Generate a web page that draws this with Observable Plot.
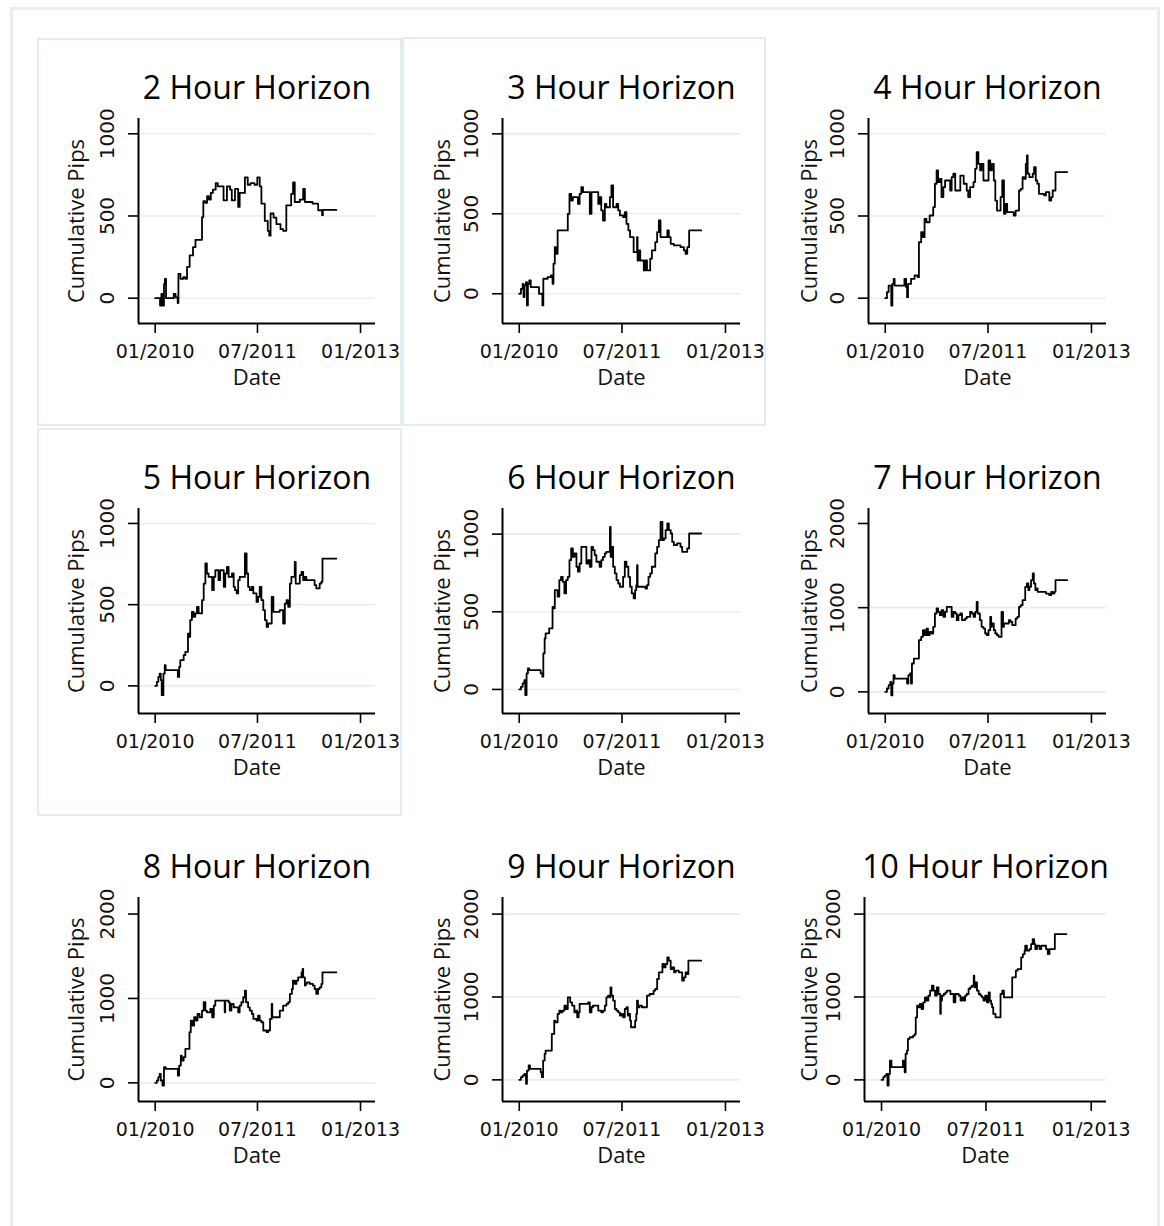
<!DOCTYPE html>
<html>
<head>
<meta charset="utf-8">
<script src="https://cdn.jsdelivr.net/npm/d3@7"></script>
<script src="https://cdn.jsdelivr.net/npm/@observablehq/plot@0.6"></script>
<style>
  body { margin: 0; background: #fff; }
  #page { position: relative; width: 1164px; height: 1226px; background: #fff; overflow: hidden; }
  .outer { position: absolute; left: 10px; top: 7px; width: 1150px; height: 1300px; border: 3px solid #e8eff1; box-sizing: border-box; }
  .cellbox { position: absolute; border: 2px solid #e2ebed; box-sizing: border-box; }
  .panel { position: absolute; }
  .panel svg { overflow: visible; }
</style>
</head>
<body>
<div id="page"><div class="outer"></div></div>
<script>
// Forecast horizons, one small multiple each
const horizons = [2, 3, 4, 5, 6, 7, 8, 9, 10];

// Shared x ticks (dates) and y tick sets
const xTickDates = ["2010-01-01", "2011-07-01", "2013-01-01"];
const yTicksSmall = [0, 500, 1000];
const yTicksLarge = [0, 1000, 2000];

// Cumulative pips per horizon: [date, cumulative pips]
const pips2h = [["2010-01-01",0],["2010-01-22",0],["2010-01-27",-45],["2010-02-03",26],["2010-02-09",-45],["2010-02-17",85],["2010-02-22",118],["2010-02-28",0],["2010-04-10",26],["2010-04-20",5],["2010-05-01",-30],["2010-05-05",148],["2010-05-16",118],["2010-05-31",128],["2010-06-10",118],["2010-06-20",190],["2010-07-04",260],["2010-07-22",310],["2010-08-04",355],["2010-09-08",493],["2010-09-15",590],["2010-09-25",580],["2010-10-05",620],["2010-10-15",600],["2010-10-25",640],["2010-11-05",660],["2010-11-20",700],["2010-12-01",680],["2011-01-01",595],["2011-01-19",680],["2011-02-05",660],["2011-02-14",595],["2011-03-03",665],["2011-03-20",555],["2011-03-28",640],["2011-04-25",735],["2011-05-10",690],["2011-05-25",700],["2011-06-15",690],["2011-06-30",735],["2011-07-13",680],["2011-07-22",575],["2011-08-09",470],["2011-08-25",410],["2011-09-02",380],["2011-09-09",515],["2011-09-25",490],["2011-10-10",450],["2011-11-01",420],["2011-11-15",410],["2011-12-02",565],["2011-12-28",635],["2012-01-07",705],["2012-01-16",585],["2012-02-12",600],["2012-03-01",665],["2012-03-10",585],["2012-04-20",575],["2012-05-20",535],["2012-06-10",505],["2012-06-14",537],["2012-08-25",537]];

const pips3h = [["2010-01-01",0],["2010-01-10",31],["2010-01-19",62],["2010-01-24",-21],["2010-01-29",52],["2010-02-06",73],["2010-02-11",-73],["2010-02-16",62],["2010-02-23",83],["2010-03-03",42],["2010-04-16",0],["2010-05-04",-73],["2010-05-09",94],["2010-06-01",104],["2010-06-18",115],["2010-06-27",62],["2010-07-02",188],["2010-07-09",292],["2010-07-15",250],["2010-07-24",396],["2010-09-16",500],["2010-09-25",625],["2010-10-04",583],["2010-10-13",604],["2010-11-09",562],["2010-11-18",625],["2010-11-27",667],["2010-12-06",635],["2011-01-11",500],["2011-01-20",635],["2011-02-25",562],["2011-03-04",604],["2011-03-13",521],["2011-03-22",458],["2011-04-01",562],["2011-04-09",541],["2011-04-28",604],["2011-05-06",677],["2011-05-15",541],["2011-06-02",562],["2011-06-11",521],["2011-06-20",490],["2011-07-07",479],["2011-07-16",510],["2011-07-25",437],["2011-08-04",396],["2011-08-13",354],["2011-09-01",260],["2011-09-19",354],["2011-09-22",208],["2011-09-28",271],["2011-10-06",208],["2011-10-25",146],["2011-11-02",208],["2011-11-11",146],["2011-11-28",219],["2011-12-07",271],["2011-12-25",323],["2012-01-04",385],["2012-01-13",458],["2012-01-22",354],["2012-02-27",396],["2012-03-06",354],["2012-03-16",312],["2012-04-02",302],["2012-05-07",292],["2012-05-25",271],["2012-06-03",250],["2012-06-12",292],["2012-06-22",396],["2012-08-25",396]];

const pips4h = [["2010-01-01",0],["2010-01-10",37],["2010-01-19",77],["2010-02-02",-45],["2010-02-08",87],["2010-02-15",118],["2010-02-20",77],["2010-04-13",118],["2010-04-22",67],["2010-04-27",6],["2010-05-02",87],["2010-05-18",118],["2010-06-06",138],["2010-06-23",128],["2010-06-29",341],["2010-07-11",402],["2010-07-20",371],["2010-07-29",483],["2010-08-08",462],["2010-08-25",503],["2010-09-13",554],["2010-09-22",696],["2010-10-01",777],["2010-10-09",706],["2010-10-18",726],["2010-10-27",615],["2010-11-06",675],["2010-11-15",716],["2010-12-12",655],["2010-12-20",736],["2010-12-29",757],["2011-01-08",655],["2011-02-04",746],["2011-02-22",696],["2011-03-10",655],["2011-03-18",615],["2011-03-28",675],["2011-04-15",706],["2011-04-24",787],["2011-05-02",888],["2011-05-11",817],["2011-05-20",777],["2011-05-28",817],["2011-06-07",716],["2011-07-04",838],["2011-07-13",777],["2011-07-22",817],["2011-08-01",716],["2011-08-09",594],["2011-08-18",533],["2011-09-06",615],["2011-09-15",716],["2011-09-24",513],["2011-10-02",574],["2011-10-11",523],["2011-11-15",503],["2011-11-25",533],["2011-12-13",655],["2011-12-22",665],["2012-01-01",736],["2012-01-10",726],["2012-01-18",817],["2012-01-24",868],["2012-01-28",757],["2012-02-06",736],["2012-02-24",757],["2012-03-02",797],["2012-03-11",716],["2012-03-19",696],["2012-03-28",635],["2012-04-25",625],["2012-05-04",645],["2012-05-22",594],["2012-06-01",615],["2012-06-09",655],["2012-06-24",767],["2012-08-25",767]];

const pips5h = [["2010-01-01",0],["2010-01-10",25],["2010-01-18",55],["2010-01-25",76],["2010-01-31",35],["2010-02-05",-57],["2010-02-14",76],["2010-02-21",127],["2010-02-26",97],["2010-04-27",97],["2010-05-02",55],["2010-05-09",117],["2010-05-15",158],["2010-06-02",189],["2010-06-11",209],["2010-06-25",322],["2010-07-02",302],["2010-07-07",405],["2010-07-16",456],["2010-07-25",425],["2010-08-03",446],["2010-08-12",487],["2010-08-21",446],["2010-09-08",528],["2010-09-17",630],["2010-09-26",754],["2010-10-04",692],["2010-10-13",671],["2010-11-01",589],["2010-11-10",671],["2010-11-18",712],["2010-12-05",651],["2010-12-14",712],["2011-01-02",610],["2011-01-10",692],["2011-01-19",733],["2011-01-28",671],["2011-02-15",692],["2011-02-24",610],["2011-03-03",589],["2011-03-12",569],["2011-03-20",651],["2011-03-28",671],["2011-04-25",815],["2011-05-04",692],["2011-05-12",610],["2011-05-21",589],["2011-06-01",610],["2011-06-09",569],["2011-06-26",517],["2011-07-04",548],["2011-07-13",610],["2011-07-22",528],["2011-08-01",466],["2011-08-10",405],["2011-08-19",363],["2011-08-27",384],["2011-09-15",548],["2011-09-24",456],["2011-10-28",466],["2011-11-15",384],["2011-11-24",507],["2011-12-03",528],["2011-12-12",487],["2011-12-21",630],["2011-12-29",671],["2012-01-16",764],["2012-01-21",630],["2012-02-12",682],["2012-02-21",702],["2012-03-01",651],["2012-03-09",671],["2012-03-18",651],["2012-05-01",620],["2012-05-10",600],["2012-05-28",630],["2012-06-06",641],["2012-06-12",784],["2012-08-25",784]];

const pips6h = [["2010-01-01",0],["2010-01-10",17],["2010-01-19",39],["2010-01-28",60],["2010-02-02",-36],["2010-02-09",103],["2010-02-16",135],["2010-02-23",124],["2010-04-25",103],["2010-05-04",82],["2010-05-09",232],["2010-05-16",328],["2010-05-21",361],["2010-06-09",393],["2010-06-27",532],["2010-07-02",522],["2010-07-09",640],["2010-07-24",597],["2010-08-02",704],["2010-08-11",725],["2010-08-20",693],["2010-08-29",618],["2010-09-07",704],["2010-09-16",725],["2010-09-25",833],["2010-10-04",908],["2010-10-13",854],["2010-10-22",876],["2010-11-01",790],["2010-11-09",758],["2010-11-18",811],["2010-11-27",918],["2010-12-24",811],["2011-01-02",833],["2011-01-11",790],["2011-01-20",918],["2011-01-28",897],["2011-02-06",865],["2011-02-15",822],["2011-03-04",790],["2011-03-13",833],["2011-03-22",854],["2011-04-01",876],["2011-04-09",886],["2011-04-28",1047],["2011-05-02",854],["2011-05-09",918],["2011-05-15",790],["2011-05-24",747],["2011-06-02",704],["2011-06-11",682],["2011-06-20",661],["2011-07-07",725],["2011-07-16",822],["2011-07-25",790],["2011-08-04",725],["2011-08-13",661],["2011-08-22",618],["2011-09-01",586],["2011-09-09",640],["2011-09-15",672],["2011-09-19",800],["2011-09-22",661],["2011-11-02",650],["2011-11-11",672],["2011-11-19",725],["2011-11-28",747],["2011-12-07",790],["2011-12-25",876],["2012-01-04",918],["2012-01-13",961],["2012-01-22",1079],["2012-02-01",961],["2012-02-09",972],["2012-02-18",1026],["2012-02-27",1069],["2012-03-06",1026],["2012-03-16",1004],["2012-03-24",950],["2012-04-02",929],["2012-04-19",940],["2012-05-07",918],["2012-05-16",886],["2012-06-12",908],["2012-06-22",1004],["2012-08-25",1004]];

const pips7h = [["2010-01-01",0],["2010-01-10",40],["2010-01-19",79],["2010-01-28",119],["2010-02-02",-40],["2010-02-08",99],["2010-02-14",198],["2010-02-20",158],["2010-04-21",158],["2010-04-27",99],["2010-05-04",198],["2010-05-13",218],["2010-05-18",99],["2010-05-23",337],["2010-06-02",396],["2010-06-29",614],["2010-07-11",653],["2010-07-20",733],["2010-07-29",673],["2010-08-08",752],["2010-08-16",673],["2010-08-25",713],["2010-09-04",693],["2010-09-13",772],["2010-09-22",931],["2010-10-01",990],["2010-10-09",950],["2010-10-18",911],["2010-10-27",970],["2010-11-06",891],["2010-11-15",950],["2010-11-24",1010],["2010-12-20",891],["2010-12-29",950],["2011-01-08",931],["2011-01-16",851],["2011-01-25",911],["2011-02-04",931],["2011-02-13",851],["2011-03-01",871],["2011-03-10",891],["2011-03-28",950],["2011-04-06",931],["2011-04-15",891],["2011-04-24",950],["2011-05-02",1069],["2011-05-07",931],["2011-05-19",851],["2011-05-28",772],["2011-06-07",752],["2011-06-16",693],["2011-06-25",673],["2011-07-04",733],["2011-07-13",891],["2011-07-18",772],["2011-07-22",812],["2011-08-01",733],["2011-08-09",693],["2011-08-18",673],["2011-08-27",653],["2011-09-11",950],["2011-09-19",772],["2011-09-24",812],["2011-10-20",851],["2011-10-29",832],["2011-11-07",792],["2011-11-25",871],["2011-12-04",891],["2011-12-13",1010],["2011-12-22",1030],["2012-01-01",1089],["2012-01-15",1248],["2012-01-24",1287],["2012-02-01",1208],["2012-02-06",1248],["2012-02-15",1327],["2012-02-24",1406],["2012-03-01",1287],["2012-03-09",1208],["2012-03-18",1228],["2012-03-21",1188],["2012-05-04",1168],["2012-05-22",1149],["2012-06-01",1188],["2012-06-09",1168],["2012-06-18",1188],["2012-06-24",1327],["2012-08-25",1327]];

const pips8h = [["2010-01-01",0],["2010-01-10",28],["2010-01-18",67],["2010-01-25",107],["2010-01-31",28],["2010-02-09",-32],["2010-02-17",185],["2010-02-26",166],["2010-05-02",87],["2010-05-09",205],["2010-05-18",323],["2010-05-23",264],["2010-06-02",304],["2010-06-11",402],["2010-07-03",600],["2010-07-10",738],["2010-07-19",678],["2010-07-28",777],["2010-08-06",738],["2010-08-15",817],["2010-08-26",777],["2010-09-08",856],["2010-09-17",955],["2010-09-26",856],["2010-10-04",836],["2010-10-22",876],["2010-11-01",777],["2010-11-10",915],["2010-11-18",974],["2011-01-07",836],["2011-01-10",974],["2011-01-28",955],["2011-02-03",856],["2011-02-12",935],["2011-02-24",895],["2011-03-20",836],["2011-03-28",915],["2011-04-06",955],["2011-04-16",1014],["2011-04-25",1093],["2011-05-01",955],["2011-05-12",895],["2011-05-21",856],["2011-06-01",817],["2011-06-09",757],["2011-06-26",738],["2011-07-04",797],["2011-07-13",738],["2011-07-22",718],["2011-08-01",620],["2011-08-19",600],["2011-08-27",620],["2011-09-06",757],["2011-09-15",935],["2011-09-18",777],["2011-10-28",856],["2011-11-15",915],["2011-12-03",935],["2011-12-12",955],["2011-12-21",1053],["2012-01-01",1112],["2012-01-06",1211],["2012-01-16",1172],["2012-01-25",1211],["2012-02-03",1250],["2012-02-21",1309],["2012-02-27",1349],["2012-03-01",1250],["2012-03-10",1152],["2012-03-14",1172],["2012-03-21",1191],["2012-04-05",1172],["2012-04-22",1152],["2012-05-01",1112],["2012-05-10",1053],["2012-05-19",1112],["2012-05-28",1132],["2012-06-06",1172],["2012-06-12",1309],["2012-08-25",1309]];

const pips9h = [["2010-01-01",0],["2010-01-10",32],["2010-01-19",52],["2010-01-28",72],["2010-02-06",-48],["2010-02-11",112],["2010-02-20",173],["2010-02-27",133],["2010-04-25",92],["2010-05-01",32],["2010-05-08",233],["2010-05-16",313],["2010-05-21",353],["2010-06-23",554],["2010-07-06",715],["2010-07-11",695],["2010-07-24",795],["2010-08-02",835],["2010-08-11",815],["2010-08-19",835],["2010-08-29",896],["2010-09-07",855],["2010-09-16",996],["2010-09-29",936],["2010-10-09",896],["2010-10-21",815],["2010-10-28",835],["2010-11-05",755],["2010-11-13",815],["2010-11-18",916],["2011-01-02",936],["2011-01-11",815],["2011-01-20",876],["2011-01-28",896],["2011-02-25",835],["2011-03-13",815],["2011-03-22",835],["2011-04-01",896],["2011-04-09",996],["2011-04-18",1016],["2011-04-28",996],["2011-05-01",1116],["2011-05-06",1016],["2011-05-15",956],["2011-05-24",855],["2011-06-02",835],["2011-06-11",815],["2011-06-20",775],["2011-06-28",795],["2011-07-07",755],["2011-07-16",855],["2011-07-25",876],["2011-08-01",775],["2011-08-07",795],["2011-08-13",715],["2011-08-18",635],["2011-09-09",715],["2011-09-15",795],["2011-09-19",956],["2011-09-24",876],["2011-10-02",896],["2011-10-15",876],["2011-11-11",1016],["2011-11-25",1036],["2011-12-16",1076],["2011-12-25",1096],["2012-01-04",1217],["2012-01-13",1297],["2012-02-01",1398],["2012-02-09",1357],["2012-02-18",1398],["2012-02-27",1478],["2012-03-06",1438],["2012-03-16",1337],["2012-03-24",1357],["2012-04-03",1297],["2012-04-11",1317],["2012-04-28",1297],["2012-05-16",1197],["2012-05-25",1237],["2012-06-03",1297],["2012-06-12",1277],["2012-06-18",1438],["2012-08-25",1438]];

const pips10h = [["2010-01-01",0],["2010-01-10",32],["2010-01-18",52],["2010-01-27",72],["2010-02-01",-68],["2010-02-07",72],["2010-02-14",233],["2010-02-22",153],["2010-04-15",153],["2010-04-23",233],["2010-05-02",92],["2010-05-07",313],["2010-05-14",353],["2010-05-19",494],["2010-05-28",514],["2010-06-15",534],["2010-06-24",554],["2010-06-29",755],["2010-07-06",896],["2010-07-13",876],["2010-07-20",916],["2010-07-29",855],["2010-08-07",936],["2010-08-16",996],["2010-08-25",956],["2010-09-03",1016],["2010-09-12",1076],["2010-09-21",1137],["2010-09-30",1076],["2010-10-08",1016],["2010-10-17",1116],["2010-10-26",1036],["2010-11-04",795],["2010-11-07",956],["2010-11-13",1016],["2010-11-22",1036],["2010-12-01",1056],["2010-12-09",1076],["2010-12-27",1036],["2011-01-13",936],["2011-01-22",1036],["2011-02-09",1016],["2011-02-18",956],["2011-02-27",996],["2011-03-07",956],["2011-03-14",1016],["2011-03-22",1036],["2011-04-01",1096],["2011-04-09",1116],["2011-04-18",1137],["2011-04-28",1257],["2011-05-01",1116],["2011-05-06",1177],["2011-05-15",1076],["2011-05-24",1036],["2011-06-02",1016],["2011-06-10",996],["2011-06-18",956],["2011-06-27",1016],["2011-07-06",936],["2011-07-15",1056],["2011-07-21",956],["2011-07-28",916],["2011-08-02",876],["2011-08-08",795],["2011-08-20",755],["2011-09-15",1036],["2011-09-24",1076],["2011-10-03",996],["2011-11-15",1237],["2011-12-04",1317],["2011-12-13",1337],["2012-01-01",1478],["2012-01-10",1518],["2012-01-19",1558],["2012-01-22",1618],["2012-01-31",1558],["2012-02-13",1578],["2012-02-22",1638],["2012-03-01",1699],["2012-03-09",1638],["2012-03-15",1578],["2012-03-24",1618],["2012-04-06",1578],["2012-04-15",1618],["2012-05-10",1578],["2012-05-19",1518],["2012-05-28",1578],["2012-06-25",1759],["2012-08-25",1759]];

const seriesByHorizon = [pips2h, pips3h, pips4h, pips5h, pips6h, pips7h, pips8h, pips9h, pips10h];
const yTicksByHorizon = [yTicksSmall, yTicksSmall, yTicksSmall, yTicksSmall, yTicksSmall, yTicksLarge, yTicksLarge, yTicksLarge, yTicksLarge];
const gridByHorizon = [[0, 500, 1000], [0, 500, 1000], [0, 500, 1000], [0, 500, 1000], [0, 500, 1000], [0, 1000], [0, 1000], [0, 1000, 2000], [0, 1000, 2000]];

// Scale extents for each panel's y axis and the shared time axis
const yDomains = [[-154, 1093], [-186, 1096], [-154, 1093], [-170, 1092], [-155, 1165], [-257, 2178], [-221, 2196], [-261, 2200], [-261, 2200]];
const xDomain = [new Date("2009-10-04"), new Date("2013-03-22")];

// Grid layout of the plot frames (page pixels)
const colFrames = [[138, 375], [502, 740], [868, 1106]];
const rowFrames = [[118, 323], [508, 713], [897, 1101]];
const yLabelCenters = [76, 442, 809];
const ML = 130, MR = 24, MT = 70, MB = 80;

const page = document.getElementById("page");

// Light outlines around some of the combined cells
[[37, 38, 365, 388], [402, 37, 364, 389], [37, 428, 365, 388]].forEach(([l, t, w, h]) => {
  const b = document.createElement("div");
  b.className = "cellbox";
  Object.assign(b.style, {left: l + "px", top: t + "px", width: w + "px", height: h + "px"});
  page.appendChild(b);
});

const xTicks = xTickDates.map((d) => new Date(d));
const fmtMonth = d3.utcFormat("%m/%Y");
const tickFont = "'DejaVu Sans', Verdana, sans-serif";
const labelFont = "'Open Sans', 'Noto Sans', sans-serif";

horizons.forEach((h, i) => {
  const col = i % 3, row = Math.floor(i / 3);
  let [fl, fr] = colFrames[col];
  if (h === 10) fl = 864;
  const [ft, fb] = rowFrames[row];
  const data = seriesByHorizon[i].map(([d, v]) => ({date: new Date(d), pips: v}));
  const yDomain = yDomains[i];

  const svg = Plot.plot({
    width: ML + (fr - fl) + MR,
    height: MT + (fb - ft) + MB,
    marginLeft: ML, marginRight: MR, marginTop: MT, marginBottom: MB,
    style: {background: "none", color: "#000", overflow: "visible"},
    x: {type: "utc", domain: xDomain},
    y: {type: "linear", domain: yDomain},
    marks: [
      Plot.ruleY(gridByHorizon[i], {stroke: "#e6eef0", strokeWidth: 1.6}),
      Plot.axisX({ticks: xTicks, tickFormat: fmtMonth, tickSize: 10, tickPadding: 11,
        strokeWidth: 1.6, fontSize: 19, fontFamily: tickFont, fill: "#111", label: null}),
      Plot.axisY({ticks: yTicksByHorizon[i], tickFormat: (d) => String(d), tickSize: 10,
        tickRotate: -90, tickPadding: 15, strokeWidth: 1.6, fontSize: 20,
        fontFamily: tickFont, fill: "#111", label: null}),
      Plot.ruleX([xDomain[0]], {stroke: "#000", strokeWidth: 2}),
      Plot.ruleY([yDomain[0]], {stroke: "#000", strokeWidth: 2}),
      Plot.line(data, {x: "date", y: "pips", curve: "step-after", stroke: "#000", strokeWidth: 1.8}),
      Plot.text([`${h} Hour Horizon`], {frameAnchor: "top", dy: -20, lineAnchor: "bottom",
        textAnchor: "middle", fontSize: 32, fontFamily: labelFont, fill: "#000"}),
      Plot.text(["Cumulative Pips"], {frameAnchor: "left", dx: yLabelCenters[col] - fl, rotate: -90,
        textAnchor: "middle", lineAnchor: "middle", fontSize: 22, fontFamily: labelFont, fill: "#111"}),
      Plot.text(["Date"], {frameAnchor: "bottom", dy: 61, lineAnchor: "bottom",
        textAnchor: "middle", fontSize: 22, fontFamily: labelFont, fill: "#111"})
    ]
  });

  const holder = document.createElement("div");
  holder.className = "panel";
  Object.assign(holder.style, {left: (fl - ML) + "px", top: (ft - MT) + "px",
    width: (ML + (fr - fl) + MR) + "px"});
  holder.appendChild(svg);
  page.appendChild(holder);
});
</script>
</body>
</html>
